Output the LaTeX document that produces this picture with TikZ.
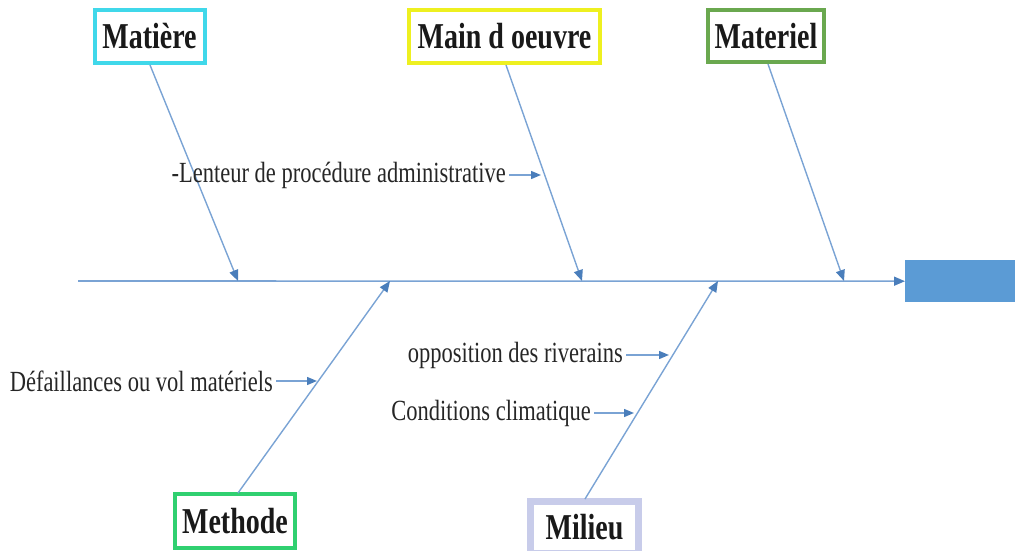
\documentclass[tikz,border=0pt]{standalone}
\usepackage{fontspec}
\setmainfont{Liberation Serif}
\usetikzlibrary{arrows.meta,calc}

\definecolor{ribblue}{HTML}{7AA3D4}
\definecolor{tipblue}{HTML}{4A7EBB}
\definecolor{effblue}{HTML}{5B9BD5}
\definecolor{matcyan}{HTML}{40D8EA}
\definecolor{moyellow}{HTML}{EEF020}
\definecolor{matgreen}{HTML}{6AA84F}
\definecolor{methgreen}{HTML}{30D070}
\definecolor{milavender}{HTML}{C8CCEA}

\newcommand{\tallbold}[1]{\scalebox{1}[1.3]{\fontsize{28}{30}\selectfont\bfseries #1}}
\newcommand{\tallcause}[1]{\scalebox{1}[1.3]{\fontsize{22.5}{24}\selectfont #1}}

\tikzset{
  catbox/.style={draw=#1, line width=4pt, fill=white, inner sep=0pt,
                 align=center, text=black!90},
  rib/.style={draw=ribblue, line width=1.4pt,
              -{Triangle[length=11pt,width=9pt,color=tipblue]}},
  causearrow/.style={draw=ribblue, line width=1.4pt,
              -{Triangle[length=10pt,width=8pt,color=tipblue]}},
  causetext/.style={inner sep=3pt, text=black!85},
}

\begin{document}
\begin{tikzpicture}[x=1pt,y=-1pt]
\useasboundingbox (0,0) rectangle (1015,551);
\clip (0,0) rectangle (1015,551);

% effect box and spine
\node[fill=effblue, minimum width=112pt, minimum height=42pt, inner sep=0pt,
      anchor=north west] (eff) at (905,260) {};
\coordinate (spL) at (78,281);
\draw[rib, line width=1.6pt] (spL) -- (eff.west);

% category boxes
\node[catbox=matcyan, minimum width=110pt, minimum height=53pt] (mat) at (149.5,36.5) {\tallbold{Matière}};
\node[catbox=moyellow, minimum width=191pt, minimum height=53pt] (mo) at (504.5,36.5) {\tallbold{Main d oeuvre}};
\node[catbox=matgreen, minimum width=116pt, minimum height=52pt] (mtl) at (766,36) {\tallbold{Materiel}};
\node[catbox=methgreen, minimum width=120pt, minimum height=54pt] (meth) at (235,521) {\tallbold{Methode}};
\node[catbox=milavender, line width=7pt, minimum width=108pt, minimum height=52pt] (mil) at (584.5,527) {\tallbold{Milieu}};

% junctions on the spine
\coordinate (j1) at (238,281);
\coordinate (j2) at (582,281);
\coordinate (j3) at (844,281);
\coordinate (j4) at (390,281);
\coordinate (j5) at (718,281);

% ribs
\draw[rib] (150,65) -- (j1);
\draw[rib] (506,65) -- (j2);
\draw[rib] (768,64) -- (j3);
\draw[rib] (238,493) -- (j4);
\draw[rib] (585,499) -- (j5);

% causes
\node[causetext, anchor=east] (c1) at (509,175) {\tallcause{-Lenteur de procédure administrative}};
\coordinate (t1) at (541,175);
\draw[causearrow] (c1.east) -- (t1);

\node[causetext, anchor=east] (c2) at (276,381) {\tallcause{Défaillances ou vol matériels}};
\coordinate (t2) at (317,381);
\draw[causearrow] (c2.east) -- (t2);

\node[causetext, anchor=east] (c3) at (626,355) {\tallcause{opposition des riverains}};
\coordinate (t3) at (669,355);
\draw[causearrow] (c3.east) -- (t3);

\node[causetext, anchor=east] (c4) at (594,413) {\tallcause{Conditions climatique}};
\coordinate (t4) at (634,413);
\draw[causearrow] (c4.east) -- (t4);
\end{tikzpicture}
\end{document}
